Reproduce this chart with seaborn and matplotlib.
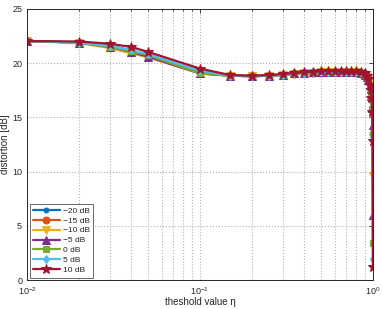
import numpy as np
import pandas as pd
import matplotlib
matplotlib.use('Agg')
import matplotlib.pyplot as plt
import seaborn as sns

# threshold values (x axis)
eta = [0.01, 0.02, 0.03, 0.04, 0.05, 0.1, 0.15, 0.2, 0.25, 0.3, 0.35, 0.4, 0.45, 0.5,
       0.55, 0.6, 0.65, 0.7, 0.75, 0.8, 0.85, 0.9, 0.92, 0.94, 0.96, 0.97, 0.98, 0.99,
       0.995, 0.999]

# distortion [dB] per SNR setting
d_m20 = [22.05, 21.9, 21.6, 21.2, 20.65, 19.1, 18.85, 18.8, 18.85, 18.9, 19.0, 19.05, 19.1, 19.1,
         19.1, 19.1, 19.1, 19.1, 19.1, 19.1, 19.0, 18.9, 18.8, 18.6, 18.3, 18.0, 17.6, 17.2,
         16.9, 16.5]
d_m15 = [22.05, 21.9, 21.5, 21.1, 20.6, 19.1, 18.85, 18.8, 18.85, 18.9, 19.0, 19.05, 19.1, 19.1,
         19.15, 19.15, 19.15, 19.15, 19.15, 19.1, 19.0, 18.9, 18.75, 18.5, 18.2, 17.9, 17.4, 16.6,
         15.4, 13.5]
d_m10 = [22.05, 21.85, 21.4, 20.9, 20.55, 19.05, 18.85, 18.8, 18.85, 18.95, 19.0, 19.05, 19.1, 19.15,
         19.15, 19.15, 19.15, 19.15, 19.15, 19.15, 19.05, 18.9, 18.7, 18.45, 18.1, 17.7, 17.1, 16.3,
         15.3, 9.6]
d_m5 = [22.05, 21.9, 21.5, 21.05, 20.6, 19.05, 18.85, 18.8, 18.85, 18.95, 19.05, 19.1, 19.15, 19.2,
        19.2, 19.2, 19.2, 19.2, 19.2, 19.2, 19.1, 18.95, 18.75, 18.45, 18.0, 17.6, 17.0, 15.9,
        14.3, 6.0]
d_0 = [22.05, 21.9, 21.5, 21.1, 20.75, 19.05, 18.85, 18.8, 18.85, 18.95, 19.05, 19.1, 19.15, 19.2,
       19.2, 19.2, 19.2, 19.2, 19.2, 19.2, 19.1, 18.95, 18.75, 18.45, 18.0, 17.6, 17.0, 15.8,
       13.5, 3.45]
d_p5 = [22.05, 21.9, 21.6, 21.2, 20.85, 19.3, 18.85, 18.8, 18.85, 18.95, 19.05, 19.1, 19.15, 19.2,
        19.2, 19.2, 19.2, 19.2, 19.2, 19.2, 19.15, 19.0, 18.8, 18.5, 18.0, 17.6, 16.9, 15.6,
        13.2, 1.95]
d_p10 = [22.05, 22.0, 21.8, 21.5, 21.05, 19.5, 18.9, 18.85, 18.9, 19.0, 19.1, 19.15, 19.2, 19.25,
         19.3, 19.3, 19.3, 19.3, 19.3, 19.3, 19.2, 19.05, 18.85, 18.55, 18.0, 17.5, 16.8, 15.5,
         12.8, 1.2]

labels = ['\u221220 dB', '\u221215 dB', '\u221210 dB', '\u22125 dB', '0 dB', '5 dB', '10 dB']
series = [d_m20, d_m15, d_m10, d_m5, d_0, d_p5, d_p10]
colors = ['#0072BD', '#D95319', '#EDB120', '#7E2F8E', '#77AC30', '#4DBEEE', '#A2142F']
markers = ['o', 'o', 'v', '^', 's', 'd', '*']
msizes = [3.5, 5, 5.5, 5.5, 4.5, 4.5, 7]

sns.set_style('white')
plt.rcParams['font.family'] = ['Liberation Sans', 'DejaVu Sans']
plt.rcParams['mathtext.fontset'] = 'custom'
plt.rcParams['mathtext.rm'] = 'Liberation Sans'
plt.rcParams['mathtext.it'] = 'Liberation Sans:italic'

fig = plt.figure(figsize=(3.82, 3.09), dpi=100)
ax = fig.add_axes([27 / 382, 29 / 309, 346 / 382, 271 / 309])

for vals, lab, c, m, ms in zip(series, labels, colors, markers, msizes):
    df = pd.DataFrame({'eta': eta, 'dist': vals})
    sns.lineplot(data=df, x='eta', y='dist', ax=ax, color=c, marker=m, markersize=ms,
                 markeredgecolor=c, markerfacecolor=c, linewidth=1.6, label=lab)

ax.set_xscale('log')
ax.set_xlim(0.01, 1)
ax.set_ylim(0, 25)
ax.set_yticks([0, 5, 10, 15, 20, 25])
ax.grid(True, which='both', axis='x', linestyle=':', color='#b0b0b0', linewidth=0.8)
ax.grid(True, which='major', axis='y', linestyle=':', color='#b0b0b0', linewidth=0.8)
ax.tick_params(which='both', direction='in', top=True, right=True, labelsize=6.5,
               colors='#262626', length=3, width=0.6)
ax.tick_params(which='minor', length=1.5)
for s in ax.spines.values():
    s.set_color('#262626')
    s.set_linewidth(0.7)

ax.set_xlabel('theshold value \u03b7', fontsize=7, labelpad=0.5)
ax.set_ylabel('distortion [dB]', fontsize=7, labelpad=1.5)

leg = ax.legend(loc='lower left', fontsize=6, frameon=True, fancybox=False,
                borderaxespad=0.3, handlelength=3.2, labelspacing=0.25,
                handletextpad=0.4, borderpad=0.4)
leg.get_frame().set_edgecolor('#262626')
leg.get_frame().set_linewidth(0.6)

fig.savefig('out.png', dpi=100)
